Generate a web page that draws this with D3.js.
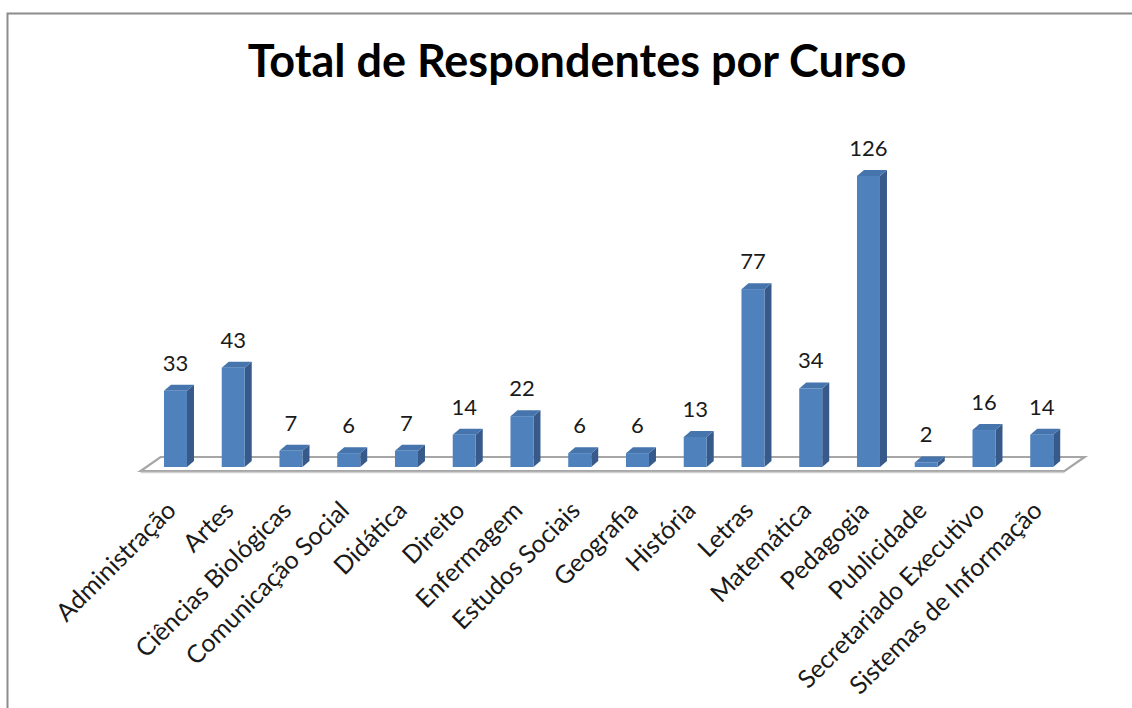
<!DOCTYPE html>
<html>
<head>
<meta charset="utf-8">
<script src="https://cdn.jsdelivr.net/npm/d3@7"></script>
<style>
html, body { margin: 0; padding: 0; background: #fff; }
svg { display: block; }
</style>
</head>
<body>
<svg id="chart" width="1132" height="708"></svg>
<script>
const title = "Total de Respondentes por Curso";
const categories = ["Administração", "Artes", "Ciências Biológicas", "Comunicação Social", "Didática", "Direito", "Enfermagem", "Estudos Sociais", "Geografia", "História", "Letras", "Matemática", "Pedagogia", "Publicidade", "Secretariado Executivo", "Sistemas de Informação"];
const values = [33, 43, 7, 6, 7, 14, 22, 6, 6, 13, 77, 34, 126, 2, 16, 14];

const W = 1132, H = 708;
const svg = d3.select("#chart");
const FONT = "Lato, 'Open Sans', sans-serif";

// frame
svg.append("path")
  .attr("d", `M7.5,${H} V13.5 H${W}`)
  .attr("fill", "none")
  .attr("stroke", "#8c8c8c")
  .attr("stroke-width", 2);

// title
svg.append("text")
  .attr("x", 577)
  .attr("y", 77)
  .attr("text-anchor", "middle")
  .attr("font-family", FONT)
  .attr("font-weight", "bold")
  .attr("font-size", 45)
  .attr("fill", "#000")
  .text(title);

const x = d3.scaleBand().domain(categories).range([146.6, 1070.6]).padding(0);
const y = d3.scaleLinear().domain([0, 140]).range([467, 143.6]);

const barW = 23, dX = 7, dY = -6;
const floorDX = 20, floorDY = -14;
const fx0 = x.range()[0] - 6, fx1 = x.range()[1] - 6, fy = 471;

// floor
const gFloor = svg.append("g");
gFloor.append("path")
  .attr("d", `M${fx0},${fy} L${fx1},${fy} L${fx1 + floorDX},${fy + floorDY} L${fx0 + floorDX},${fy + floorDY} Z`)
  .attr("fill", "#ffffff")
  .attr("stroke", "#a6a6a6")
  .attr("stroke-width", 2.2)
  .attr("stroke-linejoin", "miter");
gFloor.append("line")
  .attr("x1", fx0).attr("x2", fx1)
  .attr("y1", fy + 1.5).attr("y2", fy + 1.5)
  .attr("stroke", "#d0d0d0").attr("stroke-width", 1.5);

// bars
const bars = svg.append("g").selectAll("g.bar")
  .data(categories.map((c, i) => ({ c, v: values[i] })))
  .join("g").attr("class", "bar");

bars.each(function(d) {
  const g = d3.select(this);
  const cx = x(d.c) + x.bandwidth() / 2;
  const x0 = cx - barW / 2, x1 = cx + barW / 2;
  const yt = y(d.v), yb = y(0);
  g.append("path")
    .attr("d", `M${x1},${yb} L${x1 + dX},${yb + dY} L${x1 + dX},${yt + dY} L${x1},${yt} Z`)
    .attr("fill", "#375a8a");
  g.append("path")
    .attr("d", `M${x0},${yt} L${x1},${yt} L${x1 + dX},${yt + dY} L${x0 + dX},${yt + dY} Z`)
    .attr("fill", "#4674ad");
  g.append("rect")
    .attr("x", x0).attr("y", yt)
    .attr("width", barW).attr("height", yb - yt)
    .attr("fill", "#4f81bd");
  g.append("text")
    .attr("x", cx)
    .attr("y", yt - 20)
    .attr("text-anchor", "middle")
    .attr("font-family", FONT)
    .attr("font-size", 22)
    .attr("fill", "#1a1a1a")
    .text(d.v);
});

// category labels
svg.append("g").selectAll("text.cat")
  .data(categories)
  .join("text")
  .attr("class", "cat")
  .attr("transform", d => `translate(${x(d) + x.bandwidth() / 2 + 2},512) rotate(-45)`)
  .attr("text-anchor", "end")
  .attr("font-family", FONT)
  .attr("font-size", 25)
  .attr("fill", "#1a1a1a")
  .text(d => d);
</script>
</body>
</html>
